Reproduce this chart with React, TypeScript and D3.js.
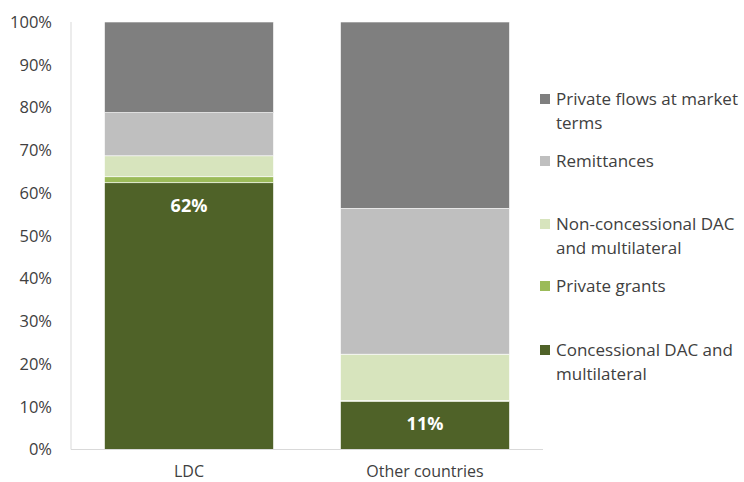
import React from "react";
import * as d3 from "d3";

const categories = ["LDC", "Other countries"];
const seriesNames = [
  "Concessional DAC and multilateral",
  "Private grants",
  "Non-concessional DAC and multilateral",
  "Remittances",
  "Private flows at market terms",
];
const concessional = [62.4, 11.3];
const privateGrants = [1.4, 0.2];
const nonConcessional = [4.9, 10.8];
const remittances = [10.1, 34.1];
const privateFlows = [21.2, 43.6];
const dataLabels = ["62%", "11%"];
const yTicks = [0, 10, 20, 30, 40, 50, 60, 70, 80, 90, 100];
const colors = ["#4f6228", "#9bbb59", "#d7e4bd", "#bfbfbf", "#7f7f7f"];
const legendLines = [
  ["Private flows at market", "terms"],
  ["Remittances"],
  ["Non-concessional DAC", "and multilateral"],
  ["Private grants"],
  ["Concessional DAC and", "multilateral"],
];
const legendColors = ["#7f7f7f", "#bfbfbf", "#d7e4bd", "#9bbb59", "#4f6228"];
const legendY = [99, 161, 224, 286, 350];

const FONT = "'Open Sans', sans-serif";

export default function App() {
  const W = 744, H = 482;
  const x = d3.scaleBand<string>().domain(categories).range([71, 543]).paddingInner(0.284).paddingOuter(0.142);
  const y = d3.scaleLinear().domain([0, 100]).range([449.5, 22]);
  const rows = categories.map((c, i) => ({
    cat: c,
    s0: concessional[i],
    s1: privateGrants[i],
    s2: nonConcessional[i],
    s3: remittances[i],
    s4: privateFlows[i],
  }));
  const stack = d3.stack<any>().keys(["s0", "s1", "s2", "s3", "s4"]);
  const series = stack(rows);
  return (
    <div style={{ position: "absolute", left: 0, top: 0 }}>
      <svg width={W} height={H} style={{ display: "block", background: "#fff" }} fontFamily={FONT}>
        {series.map((s, si) =>
          s.map((d, ci) => (
            <rect
              key={si + "-" + ci}
              x={x(categories[ci])!}
              width={x.bandwidth()}
              y={y(d[1])}
              height={Math.max(0, y(d[0]) - y(d[1]))}
              fill={colors[si]}
              stroke="#ffffff"
              strokeWidth={0.6}
            />
          ))
        )}
        <line x1={71} x2={71} y1={y(100)} y2={y(0)} stroke="#d9d9d9" strokeWidth={1} />
        <line x1={71} x2={543} y1={y(0)} y2={y(0)} stroke="#d9d9d9" strokeWidth={1} />
        {yTicks.map((t) => (
          <text key={t} x={52} y={y(t)} dy="0.35em" textAnchor="end" fontSize={16.5} fill="#404040">
            {t}%
          </text>
        ))}
        {categories.map((c) => (
          <text key={c} x={x(c)! + x.bandwidth() / 2} y={477} textAnchor="middle" fontSize={16} fill="#404040">
            {c}
          </text>
        ))}
        {categories.map((c, i) => (
          <text key={"l" + c} x={x(c)! + x.bandwidth() / 2} y={y(concessional[i]) + 23} dy="0.35em" textAnchor="middle" fontSize={18} fontWeight="bold" fill="#ffffff">
            {dataLabels[i]}
          </text>
        ))}
        {legendLines.map((lines, i) => (
          <g key={i}>
            <rect x={540} y={legendY[i] - 5} width={10} height={10} fill={legendColors[i]} />
            {lines.map((ln, j) => (
              <text key={j} x={556} y={legendY[i] + j * 24} dy="0.35em" fontSize={17} fill="#404040">
                {ln}
              </text>
            ))}
          </g>
        ))}
      </svg>
    </div>
  );
}
